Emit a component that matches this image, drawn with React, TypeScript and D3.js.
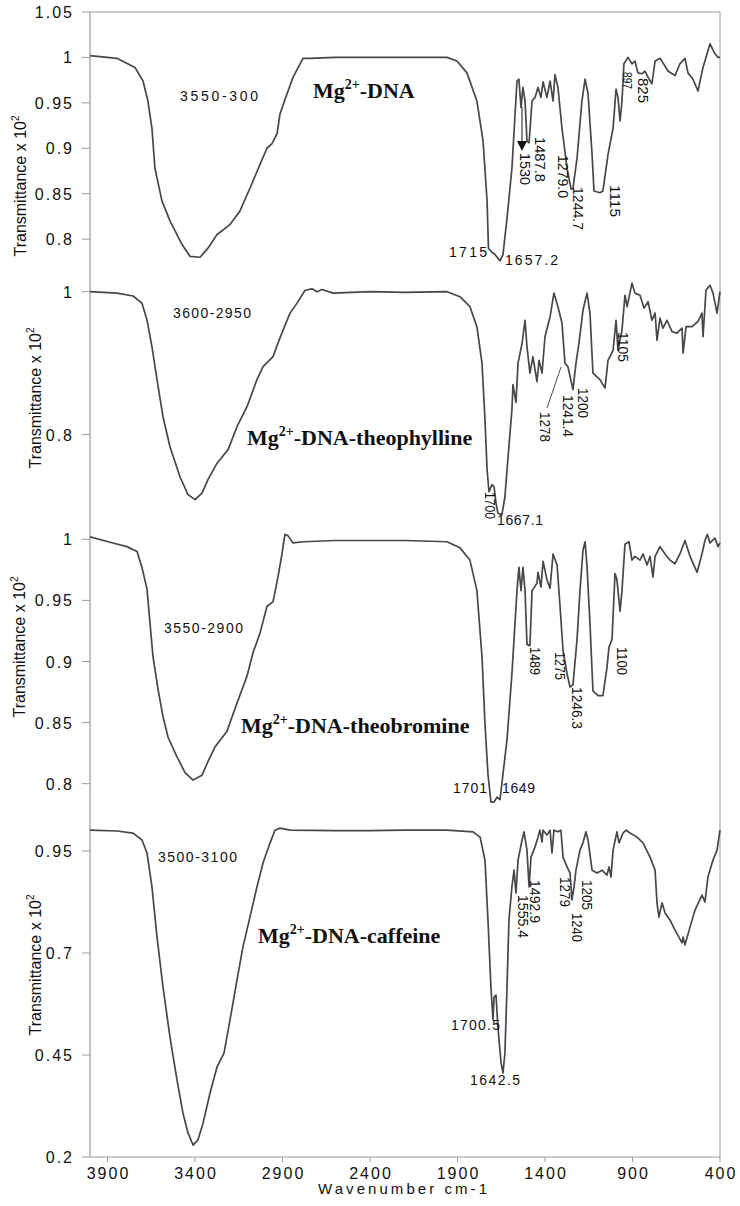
import React from 'react';
import * as d3 from 'd3';

// ---------- data ----------
const xTicks = [3900, 3400, 2900, 2400, 1900, 1400, 900, 400];

const dnaSpectrum: [number, number][] = [
  [4000, 1.002], [3846, 0.999], [3743, 0.989], [3697, 0.974], [3669, 0.952], [3646, 0.922], [3629, 0.878],
  [3589, 0.842], [3543, 0.82], [3474, 0.794], [3429, 0.781], [3371, 0.78], [3326, 0.79], [3274, 0.805],
  [3200, 0.816], [3143, 0.831], [3086, 0.856], [3029, 0.882], [2989, 0.9], [2960, 0.905], [2931, 0.916],
  [2914, 0.938], [2874, 0.96], [2840, 0.978], [2783, 0.999], [2743, 0.999], [2600, 1.0], [2400, 1.0],
  [2200, 1.0], [1960, 1.0], [1903, 0.996], [1846, 0.983], [1789, 0.952], [1754, 0.908], [1731, 0.842],
  [1723, 0.79], [1706, 0.786], [1686, 0.783], [1657, 0.776], [1640, 0.783], [1617, 0.823], [1589, 0.878],
  [1560, 0.974], [1549, 0.976], [1537, 0.945], [1526, 0.967], [1514, 0.952], [1503, 0.908], [1491, 0.906],
  [1474, 0.952], [1457, 0.956], [1440, 0.967], [1423, 0.956], [1411, 0.973], [1389, 0.956], [1371, 0.974],
  [1354, 0.952], [1343, 0.981], [1326, 0.967], [1303, 0.922], [1274, 0.878], [1251, 0.855], [1240, 0.856],
  [1217, 0.889], [1189, 0.952], [1171, 0.976], [1154, 0.96], [1131, 0.893], [1120, 0.853], [1086, 0.851],
  [1069, 0.853], [1040, 0.893], [1011, 0.922], [994, 0.965], [983, 0.956], [971, 0.93], [960, 0.952],
  [949, 0.993], [926, 1.0], [903, 0.993], [886, 0.996], [869, 0.983], [846, 0.982], [829, 0.985],
  [811, 0.978], [789, 0.971], [771, 0.996], [743, 0.999], [726, 0.994], [697, 0.985], [657, 0.98],
  [629, 0.993], [600, 0.999], [583, 0.983], [554, 0.976], [526, 0.963], [497, 0.989], [457, 1.015],
  [429, 1.004], [411, 1.0], [400, 1.0],
];

const theophyllineSpectrum: [number, number][] = [
  [4000, 1.0], [3846, 0.998], [3754, 0.994], [3703, 0.984], [3674, 0.96], [3646, 0.923], [3617, 0.877],
  [3583, 0.825], [3543, 0.783], [3486, 0.741], [3440, 0.716], [3400, 0.709], [3360, 0.718], [3326, 0.737],
  [3274, 0.76], [3211, 0.779], [3160, 0.811], [3103, 0.839], [3046, 0.877], [3011, 0.895], [2954, 0.909],
  [2926, 0.928], [2897, 0.946], [2857, 0.97], [2817, 0.984], [2771, 1.002], [2731, 1.004], [2703, 1.0],
  [2674, 1.003], [2611, 0.998], [2400, 1.0], [2200, 0.999], [1960, 1.0], [1886, 0.993], [1829, 0.979],
  [1789, 0.951], [1760, 0.9], [1743, 0.821], [1731, 0.751], [1720, 0.72], [1703, 0.73], [1691, 0.727],
  [1680, 0.704], [1669, 0.69], [1646, 0.688], [1629, 0.713], [1611, 0.769], [1589, 0.835], [1583, 0.87],
  [1566, 0.845], [1554, 0.9], [1531, 0.928], [1514, 0.96], [1503, 0.923], [1486, 0.886], [1469, 0.909],
  [1446, 0.874], [1434, 0.904], [1417, 0.886], [1400, 0.937], [1371, 0.965], [1349, 0.998], [1326, 0.979],
  [1303, 0.956], [1286, 0.9], [1269, 0.895], [1240, 0.863], [1223, 0.9], [1206, 0.928], [1183, 0.974],
  [1160, 0.998], [1143, 0.97], [1126, 0.886], [1086, 0.877], [1057, 0.865], [1040, 0.904], [1011, 0.918],
  [994, 0.96], [983, 0.918], [960, 0.946], [943, 0.995], [931, 0.979], [903, 1.012], [886, 0.998],
  [857, 0.995], [834, 0.977], [811, 0.986], [789, 0.96], [771, 0.97], [760, 0.932], [743, 0.963],
  [726, 0.949], [703, 0.96], [674, 0.944], [646, 0.942], [617, 0.949], [611, 0.914], [594, 0.951],
  [560, 0.951], [526, 0.958], [503, 0.97], [497, 0.937], [480, 1.002], [457, 1.009], [440, 0.998],
  [417, 0.97], [400, 1.0],
];

const theobromineSpectrum: [number, number][] = [
  [4000, 1.002], [3869, 0.997], [3789, 0.994], [3731, 0.99], [3703, 0.977], [3674, 0.959], [3657, 0.931],
  [3640, 0.904], [3611, 0.877], [3583, 0.855], [3554, 0.838], [3503, 0.822], [3457, 0.809], [3411, 0.803],
  [3360, 0.807], [3326, 0.818], [3286, 0.83], [3217, 0.843], [3160, 0.866], [3103, 0.888], [3069, 0.907],
  [3029, 0.923], [2989, 0.945], [2954, 0.949], [2926, 0.969], [2903, 0.988], [2886, 1.004], [2869, 1.003],
  [2840, 0.997], [2780, 0.998], [2600, 0.999], [2400, 0.999], [2200, 0.999], [1960, 0.998], [1886, 0.993],
  [1829, 0.983], [1789, 0.958], [1760, 0.904], [1743, 0.849], [1726, 0.808], [1709, 0.785], [1691, 0.785],
  [1674, 0.789], [1657, 0.787], [1640, 0.808], [1617, 0.836], [1589, 0.89], [1560, 0.958], [1549, 0.977],
  [1537, 0.958], [1526, 0.977], [1514, 0.958], [1503, 0.914], [1486, 0.913], [1474, 0.958], [1446, 0.964],
  [1440, 0.973], [1423, 0.961], [1411, 0.982], [1389, 0.967], [1371, 0.96], [1354, 0.988], [1331, 0.979],
  [1314, 0.945], [1297, 0.909], [1274, 0.89], [1257, 0.879], [1240, 0.881], [1217, 0.918], [1200, 0.958],
  [1183, 0.991], [1171, 0.998], [1160, 0.978], [1143, 0.931], [1126, 0.876], [1097, 0.872], [1069, 0.872],
  [1046, 0.895], [1034, 0.912], [1017, 0.918], [1000, 0.972], [989, 0.967], [971, 0.941], [960, 0.958],
  [943, 0.996], [920, 0.998], [903, 0.983], [886, 0.986], [857, 0.983], [840, 0.988], [817, 0.979],
  [800, 0.986], [783, 0.969], [771, 0.986], [743, 0.994], [714, 0.988], [686, 0.983], [657, 0.98],
  [629, 0.988], [600, 0.999], [571, 0.986], [531, 0.973], [503, 0.988], [486, 0.999], [472, 1.004],
  [457, 0.997], [429, 1.001], [411, 0.994], [400, 0.997],
];

const caffeineSpectrum: [number, number][] = [
  [4000, 1.001], [3846, 0.999], [3754, 0.994], [3703, 0.977], [3674, 0.945], [3646, 0.862], [3617, 0.739],
  [3583, 0.617], [3543, 0.494], [3503, 0.389], [3469, 0.308], [3440, 0.259], [3411, 0.229], [3383, 0.242],
  [3354, 0.283], [3314, 0.357], [3274, 0.421], [3234, 0.455], [3200, 0.536], [3160, 0.634], [3126, 0.715],
  [3086, 0.788], [3046, 0.862], [3011, 0.921], [2971, 0.97], [2943, 1.001], [2914, 1.006], [2857, 1.001],
  [2600, 1.0], [2400, 1.0], [2200, 1.001], [1960, 1.001], [1811, 0.997], [1771, 0.984], [1743, 0.928],
  [1726, 0.781], [1709, 0.617], [1697, 0.536], [1691, 0.592], [1680, 0.597], [1669, 0.519], [1651, 0.43],
  [1640, 0.406], [1629, 0.455], [1617, 0.617], [1606, 0.781], [1589, 0.862], [1577, 0.903], [1566, 0.847],
  [1554, 0.928], [1531, 0.977], [1520, 0.997], [1503, 0.952], [1491, 0.862], [1480, 0.935], [1457, 0.96],
  [1440, 0.984], [1429, 1.001], [1417, 0.972], [1411, 1.001], [1389, 0.989], [1371, 1.001], [1360, 0.945],
  [1349, 1.001], [1326, 0.997], [1309, 1.001], [1297, 0.935], [1274, 0.911], [1257, 0.896], [1246, 0.83],
  [1234, 0.862], [1223, 0.903], [1200, 0.952], [1183, 0.97], [1166, 0.997], [1154, 0.977], [1131, 0.903],
  [1103, 0.896], [1074, 0.903], [1046, 0.891], [1034, 0.911], [1023, 0.886], [1011, 0.952], [989, 0.997],
  [977, 0.97], [954, 0.994], [937, 1.001], [914, 0.994], [874, 0.984], [840, 0.97], [800, 0.935],
  [771, 0.903], [760, 0.823], [749, 0.788], [731, 0.823], [714, 0.798], [686, 0.781], [657, 0.756],
  [617, 0.725], [611, 0.739], [600, 0.72], [571, 0.764], [543, 0.805], [503, 0.842], [486, 0.825],
  [469, 0.886], [440, 0.928], [417, 0.952], [400, 1.001],
];

const dnaTicks = [0.8, 0.85, 0.9, 0.95, 1, 1.05];
const theophyllineTicks = [0.8, 1];
const theobromineTicks = [0.8, 0.85, 0.9, 0.95, 1];
const caffeineTicks = [0.2, 0.45, 0.7, 0.95];

const panelNames = ['DNA', 'DNA-theophylline', 'DNA-theobromine', 'DNA-caffeine'];
const bandRanges = ['3550-300', '3600-2950', '3550-2900', '3500-3100'];

// ---------- layout ----------
const W = 740;
const H = 1206;
const LEFT = 90;
const RIGHT = 720;
const TOP = 12;
const BOTTOM = 1157;

const x = d3.scaleLinear().domain([4000, 400]).range([LEFT, RIGHT]);

const panels = [
  {
    data: dnaSpectrum, ticks: dnaTicks,
    y: d3.scaleLinear().domain([0.75, 1.05]).range([284.5, 12]),
    titleX: 26, titleY: 186, nameX: 313, nameY: 98, name: panelNames[0],
    band: bandRanges[0], bandX: 180, bandY: 101, bandLen: 78,
  },
  {
    data: theophyllineSpectrum, ticks: theophyllineTicks,
    y: d3.scaleLinear().domain([0.8, 1.0]).range([434.6, 291.7]),
    titleX: 41, titleY: 398, nameX: 247, nameY: 445, name: panelNames[1],
    band: bandRanges[1], bandX: 173, bandY: 318, bandLen: 78,
  },
  {
    data: theobromineSpectrum, ticks: theobromineTicks,
    y: d3.scaleLinear().domain([0.8, 1.0]).range([783.7, 539.3]),
    titleX: 25, titleY: 647, nameX: 241, nameY: 733, name: panelNames[2],
    band: bandRanges[2], bandX: 164, bandY: 633, bandLen: 79,
  },
  {
    data: caffeineSpectrum, ticks: caffeineTicks,
    y: d3.scaleLinear().domain([0.2, 0.95]).range([1157, 851]),
    titleX: 41, titleY: 965, nameX: 258, nameY: 943, name: panelNames[3],
    band: bandRanges[3], bandX: 158, bandY: 862, bandLen: 79,
  },
];

// vertical (rotated) peak labels: [text, baselineX, startY, length]
const vLabels: [string, number, number, number][] = [
  ['1530', 520, 153, 32], ['1487.8', 535, 137, 45], ['1279.0', 558, 155, 43], ['1244.7', 573, 187, 43],
  ['1115', 610, 185, 32], ['897', 623, 72, 17], ['825', 638, 78, 25],
  ['1700', 485, 492, 27], ['1278', 540, 412, 30], ['1241.4', 563, 395, 42], ['1200', 578, 388, 30],
  ['1105', 618, 332, 30],
  ['1489', 530, 647, 28], ['1275', 555, 652, 28], ['1246.3', 572, 687, 42], ['1100', 617, 647, 28],
  ['1492.9', 530, 880, 43], ['1555.4', 518, 895, 43], ['1279', 560, 877, 30], ['1205', 582, 880, 30],
  ['1240', 572, 913, 29],
];
// horizontal peak labels: [text, startX, baselineY, length]
const hLabels: [string, number, number, number][] = [
  ['1715', 449, 257, 38], ['1657.2', 505, 265, 53], ['1667.1', 497, 525, 46],
  ['1701', 453, 793, 34], ['1649', 502, 793, 33], ['1700.5', 451, 1030, 49], ['1642.5', 470, 1085, 50],
];

const SANS = '"Liberation Sans", Arial, Helvetica, sans-serif';
const SERIF = '"Liberation Serif", "Times New Roman", serif';
const AXIS = '#9a9a9a';
const LINE = '#474747';

export default function App() {
  React.useEffect(() => {
    document.body.style.margin = '0';
  }, []);

  return (
    <svg width={W} height={H} viewBox={`0 0 ${W} ${H}`}
      style={{ display: 'block', position: 'absolute', left: 0, top: 0, background: '#fff' }}>
      <rect x={0} y={0} width={W} height={H} fill="#fff" />
      {/* frame */}
      <line x1={LEFT} x2={RIGHT} y1={TOP} y2={TOP} stroke={AXIS} strokeWidth={1} />
      <line x1={RIGHT} x2={RIGHT} y1={TOP} y2={BOTTOM} stroke={AXIS} strokeWidth={1} />
      <line x1={LEFT} x2={LEFT} y1={TOP} y2={BOTTOM} stroke={AXIS} strokeWidth={1.2} />
      <line x1={LEFT} x2={RIGHT} y1={BOTTOM} y2={BOTTOM} stroke={AXIS} strokeWidth={1.2} />

      {/* x axis */}
      {xTicks.map((t) => (
        <g key={t}>
          <line x1={x(t)} x2={x(t)} y1={BOTTOM} y2={BOTTOM + 5} stroke={AXIS} />
          <text x={x(t) + 1} y={1179} textAnchor="middle" fontFamily={SANS} fontSize={16}
            letterSpacing={2} fill="#111">{t}</text>
        </g>
      ))}
      <text x={318} y={1194} fontFamily={SANS} fontSize={15} textLength={169}
        lengthAdjust="spacing" fill="#111">Wavenumber cm-1</text>

      {panels.map((p, i) => {
        const line = d3.line<[number, number]>()
          .x((d) => x(d[0]))
          .y((d) => p.y(d[1]));
        return (
          <g key={i}>
            {p.ticks.map((t) => (
              <g key={t}>
                <line x1={LEFT - 8} x2={LEFT} y1={p.y(t)} y2={p.y(t)} stroke={AXIS} />
                <text x={74} y={p.y(t) + 6} textAnchor="end" fontFamily={SANS} fontSize={16}
                  letterSpacing={2} fill="#111">{String(t)}</text>
              </g>
            ))}
            <text transform={`translate(${p.titleX},${p.titleY}) rotate(-90)`} textAnchor="middle"
              fontFamily={SANS} fontSize={16} fill="#111">
              Transmittance x 10<tspan dy={-7} fontSize={10}>2</tspan>
            </text>
            <path d={line(p.data) || ''} fill="none" stroke={LINE} strokeWidth={1.7}
              strokeLinejoin="round" />
            <text x={p.bandX} y={p.bandY} fontFamily={SANS} fontSize={14} textLength={p.bandLen}
              lengthAdjust="spacing" fill="#111">{p.band}</text>
            <text x={p.nameX} y={p.nameY} fontFamily={SERIF} fontWeight="bold" fontSize={22} fill="#111">
              Mg<tspan dy={-9} fontSize={14}>2+</tspan><tspan dy={9}>-{p.name}</tspan>
            </text>
          </g>
        );
      })}

      {/* arrow in first panel */}
      <line x1={522} x2={522} y1={107} y2={142} stroke="#111" strokeWidth={1} />
      <path d="M517,141 L527,141 L522,151 Z" fill="#111" />
      {/* leader line for 1278 */}
      <line x1={561} y1={367} x2={547} y2={408} stroke="#222" strokeWidth={0.8} />

      {vLabels.map(([t, bx, sy, len], i) => (
        <text key={'v' + i} transform={`translate(${bx},${sy}) rotate(90)`} fontFamily={SANS}
          fontSize={len < 20 ? 12 : 14} textLength={len} lengthAdjust="spacingAndGlyphs" fill="#111">{t}</text>
      ))}
      {hLabels.map(([t, sx, by, len], i) => (
        <text key={'h' + i} x={sx} y={by} fontFamily={SANS} fontSize={14} textLength={len}
          lengthAdjust="spacing" fill="#111">{t}</text>
      ))}
    </svg>
  );
}
